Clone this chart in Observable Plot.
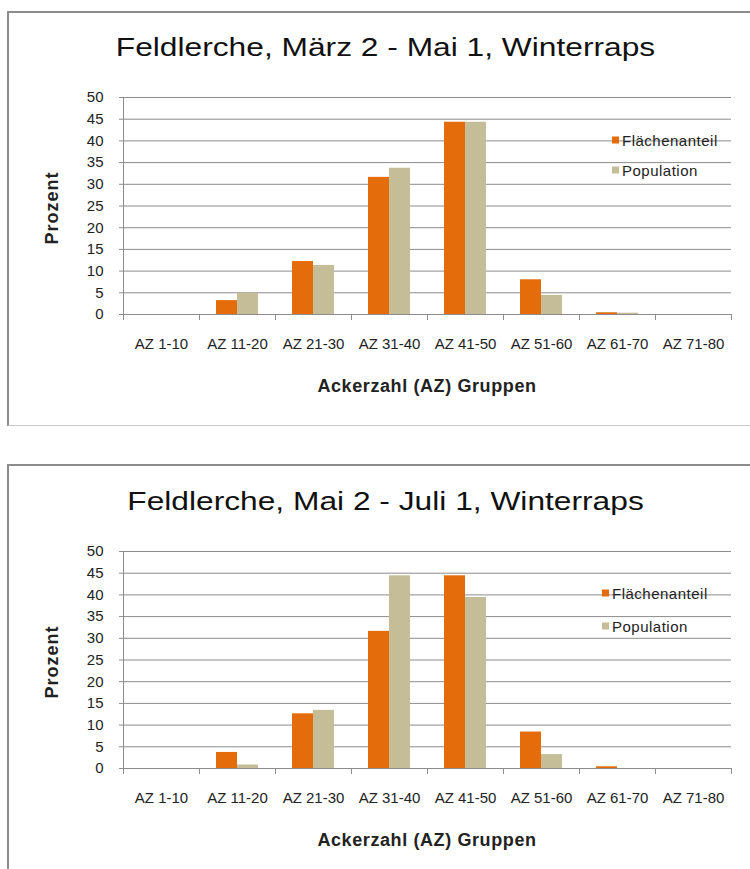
<!DOCTYPE html>
<html>
<head>
<meta charset="utf-8">
<script src="https://cdn.jsdelivr.net/npm/d3@7"></script>
<script src="https://cdn.jsdelivr.net/npm/@observablehq/plot@0.6"></script>
<style>
  html, body { margin: 0; padding: 0; background: #fff; }
  #page { position: relative; width: 750px; height: 869px; overflow: hidden; font-family: "Liberation Sans", Arial, sans-serif; }
  .panel { position: absolute; left: 7px; width: 760px; box-sizing: border-box;
           border-top: 2px solid #8c8c8c; border-left: 2px solid #8c8c8c; border-bottom: 1px solid #c8c8c8; }
  .chart { position: absolute; left: 0; }
  #overlay { position: absolute; left: 0; top: 0; pointer-events: none; }
</style>
</head>
<body>
<div id="page"></div>
<script>
// ---------- data ----------
const categories = ["AZ 1-10", "AZ 11-20", "AZ 21-30", "AZ 31-40", "AZ 41-50", "AZ 51-60", "AZ 61-70", "AZ 71-80"];
const seriesNames = ["Flächenanteil", "Population"];
const seriesColors = ["#E46C0A", "#C4BD97"];
const yTicks = [0, 5, 10, 15, 20, 25, 30, 35, 40, 45, 50];
const titles = ["Feldlerche, März 2 - Mai 1, Winterraps", "Feldlerche, Mai 2 - Juli 1, Winterraps"];
const xAxisTitle = "Ackerzahl (AZ) Gruppen";
const yAxisTitle = "Prozent";

const flaecheMaerzMai    = [0, 3.2, 12.2, 31.6, 44.3, 8.0, 0.4, 0];
const populationMaerzMai = [0, 4.9, 11.3, 33.7, 44.3, 4.4, 0.3, 0];
const flaecheMaiJuli     = [0, 3.7, 12.6, 31.6, 44.4, 8.4, 0.4, 0];
const populationMaiJuli  = [0, 0.8, 13.4, 44.4, 39.4, 3.2, 0.0, 0];

// ---------- layout ----------
const W = 750, H = 430;
const M = { top: 97, right: 16, bottom: 116, left: 119 };
const plotH = H - M.top - M.bottom;
const panels = [
  { offset: 0, values: [flaecheMaerzMai, populationMaerzMai], title: titles[0], legendX: 612, legendY: [140, 170], border: { top: 11, height: 415 } },
  { offset: 454, values: [flaecheMaiJuli, populationMaiJuli], title: titles[1], legendX: 602, legendY: [593, 626], border: { top: 464, height: 420 } }
];

const page = document.getElementById("page");
const gray = "#8c8c8c";

function buildTable(values) {
  const rows = [];
  categories.forEach((c, i) => {
    seriesNames.forEach((s, j) => rows.push({ group: c, series: s, value: values[j][i] }));
  });
  return rows;
}

panels.forEach(p => {
  const box = document.createElement("div");
  box.className = "panel";
  box.style.top = p.border.top + "px";
  box.style.height = p.border.height + "px";
  page.appendChild(box);

  const data = buildTable(p.values);
  const chart = Plot.plot({
    width: W, height: H,
    marginTop: M.top, marginRight: M.right, marginBottom: M.bottom, marginLeft: M.left,
    style: { background: "transparent", fontFamily: "'Liberation Sans', Arial, sans-serif", fontSize: "15px", color: "#222", overflow: "visible" },
    fx: { domain: categories, padding: 0, label: null },
    x: { domain: seriesNames, paddingInner: 0, paddingOuter: 0.75, axis: null },
    y: { domain: [0, 50], label: null },
    color: { domain: seriesNames, range: seriesColors },
    marks: [
      Plot.gridY(yTicks, { stroke: gray, strokeOpacity: 1 }),
      Plot.barY(data, { fx: "group", x: "series", y: "value", fill: "series" }),
      Plot.frame({ anchor: "left", facetAnchor: "left", stroke: gray }),
      Plot.frame({ anchor: "bottom", stroke: gray }),
      Plot.frame({ anchor: "left", stroke: gray, insetTop: plotH, insetBottom: -5 }),
      Plot.frame({ anchor: "right", facetAnchor: "right", stroke: gray, insetTop: plotH, insetBottom: -5 }),
      Plot.axisY(yTicks, { tickSize: 4, tickPadding: 16, stroke: gray, fill: "#222", label: null }),
      Plot.axisFx({ anchor: "bottom", tickSize: 0, tickPadding: 24, fill: "#222", label: null })
    ]
  });
  chart.classList.add("chart");
  chart.style.top = p.offset + "px";
  page.appendChild(chart);
});

// ---------- overlay: titles, axis titles, legends ----------
const ns = "http://www.w3.org/2000/svg";
const svg = d3.select(page).append("svg").attr("id", "overlay").attr("width", W).attr("height", 869)
  .style("font-family", "'Liberation Sans', Arial, sans-serif");

panels.forEach(p => {
  const o = p.offset;
  svg.append("text")
    .attr("transform", `translate(385.5,${56 + o}) scale(1.22,1)`)
    .attr("text-anchor", "middle").attr("font-size", 26).attr("fill", "#111")
    .text(p.title);
  svg.append("text")
    .attr("x", 427).attr("y", 392 + o)
    .attr("text-anchor", "middle").attr("font-size", 18).attr("font-weight", "bold")
    .attr("letter-spacing", 0.6).attr("fill", "#222")
    .text(xAxisTitle);
  svg.append("text")
    .attr("transform", `translate(58,${208 + o}) rotate(-90)`)
    .attr("text-anchor", "middle").attr("font-size", 18).attr("font-weight", "bold")
    .attr("letter-spacing", 1).attr("fill", "#222")
    .text(yAxisTitle);
  seriesNames.forEach((s, j) => {
    const cy = p.legendY[j];
    svg.append("rect").attr("x", p.legendX).attr("y", cy - 3.5).attr("width", 7).attr("height", 7).attr("fill", seriesColors[j]);
    svg.append("text").attr("x", p.legendX + 10).attr("y", cy + 5.5)
      .attr("font-size", 15).attr("letter-spacing", 0.5).attr("fill", "#222").text(s);
  });
});
</script>
</body>
</html>
